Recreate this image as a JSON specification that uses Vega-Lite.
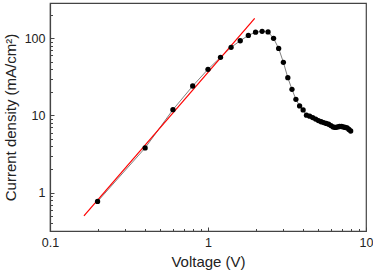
{
  "$schema": "https://vega.github.io/schema/vega-lite/v6.json",
  "width": 316,
  "height": 228,
  "autosize": "none",
  "padding": {"left": 50, "top": 3, "right": 7, "bottom": 43},
  "background": "white",
  "config": {
    "view": {"stroke": "#444", "strokeWidth": 1.2},
    "font": "Liberation Sans",
    "axis": {
      "grid": false,
      "domainColor": "#444",
      "domainWidth": 1.2,
      "tickColor": "#444",
      "tickWidth": 1,
      "labelFont": "Liberation Sans",
      "labelFontSize": 12.5,
      "labelColor": "#222",
      "titleFont": "Liberation Sans",
      "titleFontSize": 15,
      "titleFontWeight": "normal",
      "titleColor": "#222",
      "labelOverlap": false,
      "labelFlush": false
    }
  },
  "datasets": {
    "pts": [
      {"V": 0.2, "J": 0.77},
      {"V": 0.4, "J": 3.8},
      {"V": 0.6, "J": 11.9},
      {"V": 0.8, "J": 24.1},
      {"V": 1.0, "J": 39.7},
      {"V": 1.2, "J": 56.7},
      {"V": 1.4, "J": 76.4},
      {"V": 1.6, "J": 93},
      {"V": 1.8, "J": 109},
      {"V": 2.0, "J": 120},
      {"V": 2.2, "J": 123},
      {"V": 2.4, "J": 121},
      {"V": 2.6, "J": 100},
      {"V": 2.8, "J": 74},
      {"V": 3.0, "J": 48.9},
      {"V": 3.2, "J": 30.9},
      {"V": 3.4, "J": 21.8},
      {"V": 3.6, "J": 16.2},
      {"V": 3.8, "J": 13.3},
      {"V": 4.0, "J": 11.8},
      {"V": 4.2, "J": 10.1},
      {"V": 4.4, "J": 9.8},
      {"V": 4.6, "J": 9.4},
      {"V": 4.8, "J": 9.0},
      {"V": 5.0, "J": 8.6},
      {"V": 5.2, "J": 8.3},
      {"V": 5.4, "J": 8.1},
      {"V": 5.6, "J": 7.9},
      {"V": 5.8, "J": 7.7},
      {"V": 6.0, "J": 7.4},
      {"V": 6.2, "J": 7.1},
      {"V": 6.4, "J": 7.0},
      {"V": 6.6, "J": 7.1},
      {"V": 6.8, "J": 7.2},
      {"V": 7.0, "J": 7.2},
      {"V": 7.2, "J": 7.1},
      {"V": 7.4, "J": 7.0},
      {"V": 7.6, "J": 6.9},
      {"V": 7.8, "J": 6.6},
      {"V": 8.0, "J": 6.3}
    ],
    "fit": [
      {"V": 0.164, "J": 0.5},
      {"V": 1.975, "J": 181.6}
    ]
  },
  "encoding": {
    "x": {
      "field": "V",
      "type": "quantitative",
      "scale": {"type": "log", "domain": [0.1, 10], "nice": false},
      "axis": {
        "title": "Voltage (V)",
        "values": [0.1, 0.2, 0.3, 0.4, 0.5, 0.6, 0.7, 0.8, 0.9, 1, 2, 3, 4, 5, 6, 7, 8, 9, 10],
        "labelExpr": "abs(log(datum.value)/LN10 - round(log(datum.value)/LN10)) < 0.001 ? format(datum.value, '~g') : ''",
        "tickSize": {"condition": {"test": "abs(log(datum.value)/LN10 - round(log(datum.value)/LN10)) < 0.001", "value": -4}, "value": -2.5},
        "labelPadding": 9,
        "titlePadding": 4
      }
    },
    "y": {
      "field": "J",
      "type": "quantitative",
      "scale": {"type": "log", "domain": [0.319, 286.6], "nice": false},
      "axis": {
        "title": "Current density (mA/cm²)",
        "values": [0.4, 0.5, 0.6, 0.7, 0.8, 0.9, 1, 2, 3, 4, 5, 6, 7, 8, 9, 10, 20, 30, 40, 50, 60, 70, 80, 90, 100, 200],
        "labelExpr": "abs(log(datum.value)/LN10 - round(log(datum.value)/LN10)) < 0.001 ? format(datum.value, '~g') : ''",
        "tickSize": {"condition": {"test": "abs(log(datum.value)/LN10 - round(log(datum.value)/LN10)) < 0.001", "value": -4}, "value": -2.5},
        "labelPadding": 9,
        "titlePadding": 6
      }
    }
  },
  "layer": [
    {
      "data": {"name": "pts"},
      "mark": {"type": "line", "color": "#808080", "strokeWidth": 1}
    },
    {
      "data": {"name": "fit"},
      "mark": {"type": "line", "color": "#ff0000", "strokeWidth": 1.2}
    },
    {
      "data": {"name": "pts"},
      "mark": {"type": "circle", "color": "#000000", "opacity": 1, "size": 28}
    }
  ]
}
